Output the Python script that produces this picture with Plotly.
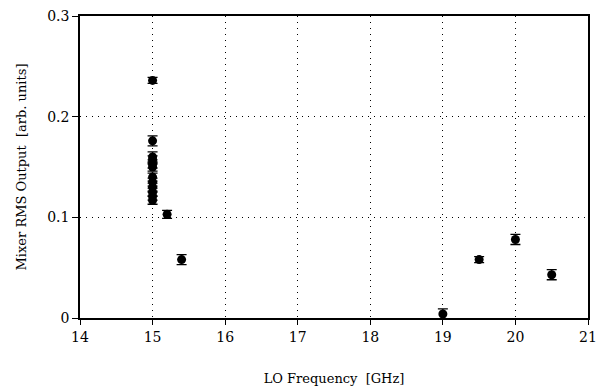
import plotly.graph_objects as go

freq = [15.0, 15.0, 15.0, 15.0, 15.0, 15.0, 15.0, 15.0, 15.0, 15.0, 15.0, 15.0,
        15.2, 15.4, 19.0, 19.5, 20.0, 20.5]
rms = [0.236, 0.176, 0.160, 0.157, 0.153, 0.150, 0.140, 0.135, 0.130, 0.125, 0.121, 0.117,
       0.103, 0.058, 0.004, 0.058, 0.078, 0.043]
err = [0.003, 0.005, 0.005, 0.004, 0.004, 0.004, 0.004, 0.004, 0.004, 0.004, 0.004, 0.004,
       0.004, 0.005, 0.005, 0.003, 0.005, 0.005]

x_ticks = [14, 15, 16, 17, 18, 19, 20, 21]
y_ticks = [0, 0.1, 0.2, 0.3]
y_labels = ["0", "0.1", "0.2", "0.3"]

fig = go.Figure()
fig.add_trace(go.Scatter(
    x=freq, y=rms, mode="markers",
    marker=dict(color="black", size=9, symbol="circle", line=dict(width=0)),
    error_y=dict(type="data", array=err, color="black", thickness=1.3, width=5),
    showlegend=False,
))

FAM = "DejaVu Serif"
fig.update_layout(
    width=600, height=390,
    margin=dict(l=80, r=12, t=16, b=72, autoexpand=False),
    paper_bgcolor="white", plot_bgcolor="white",
    font=dict(family=FAM, size=14, color="black"),
)
fig.update_xaxes(
    range=[14, 21], tickvals=x_ticks, ticks="outside", ticklen=5, tickcolor="black",
    showline=True, linecolor="black", linewidth=1.5, mirror=True,
    showgrid=True, gridcolor="black", griddash="1px,5px", gridwidth=1.2,
    zeroline=False, automargin=False, ticklabeloverflow="allow",
    tickfont=dict(family=FAM, size=14, color="black"),
    title=dict(text="LO Frequency  [GHz]", font=dict(family=FAM, size=13, color="black"), standoff=30),
)
fig.update_yaxes(
    range=[0, 0.3], tickvals=y_ticks, ticktext=y_labels, ticks="outside", ticklen=6, tickcolor="black",
    showline=True, linecolor="black", linewidth=1.5, mirror=True,
    showgrid=True, gridcolor="black", griddash="1px,5px", gridwidth=1.2,
    zeroline=False, automargin=False, ticklabeloverflow="allow",
    tickfont=dict(family=FAM, size=14, color="black"),
    title=dict(text="Mixer RMS Output  [arb. units]", font=dict(family=FAM, size=13, color="black"), standoff=18),
)
fig.write_html("out.html", config={"displayModeBar": False},
               post_script="document.body.style.margin='0';document.body.style.overflow='hidden';")
